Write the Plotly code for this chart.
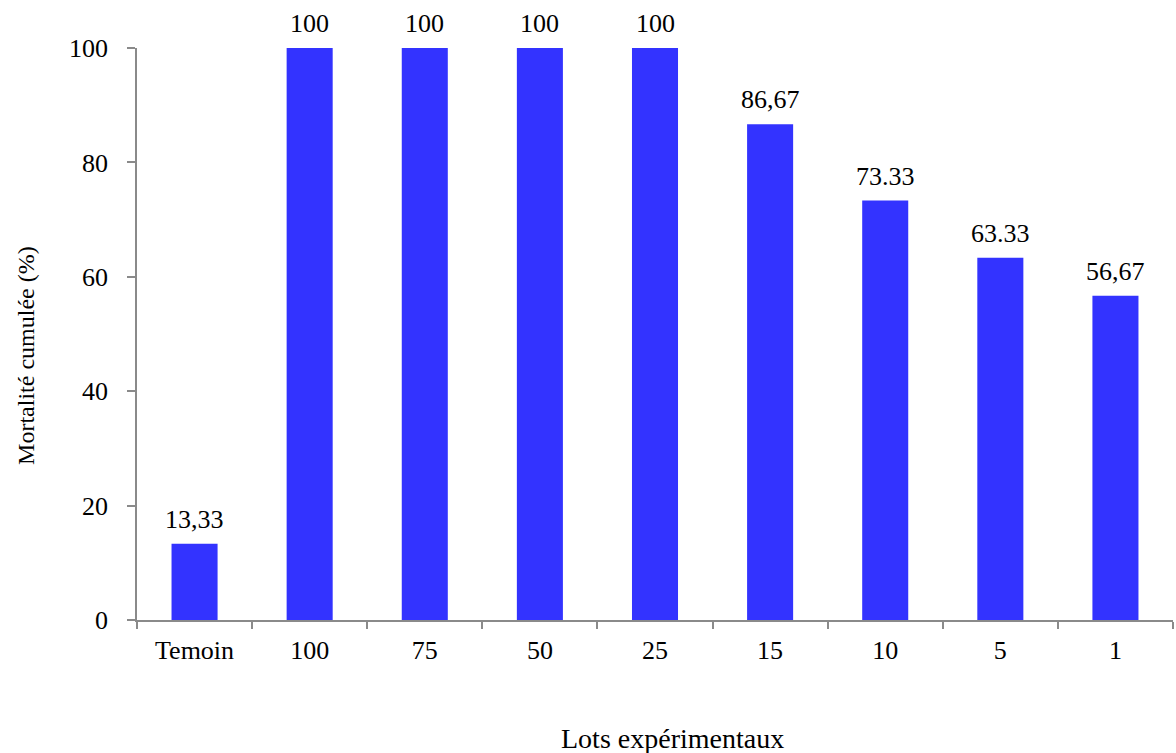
import plotly.graph_objects as go

# Experimental lots and cumulative mortality (%)
lots = ["Temoin", "100", "75", "50", "25", "15", "10", "5", "1"]
mortalite = [13.33, 100, 100, 100, 100, 86.67, 73.33, 63.33, 56.67]
etiquettes = ["13,33", "100", "100", "100", "100", "86,67", "73.33", "63.33", "56,67"]
y_ticks = [0, 20, 40, 60, 80, 100]

font_family = "Liberation Serif, Times New Roman, serif"
axis_color = "#8a8a8a"

fig = go.Figure(
    go.Bar(
        x=lots,
        y=mortalite,
        marker=dict(color="#3333FF", line=dict(width=0)),
        width=0.4,
        cliponaxis=False,
        hoverinfo="x+y",
    )
)

# value labels sitting above each bar (category axis positions are indices)
annotations = [
    dict(
        x=i, y=val, xref="x", yref="y",
        text=lab, showarrow=False,
        xanchor="center", yanchor="bottom", yshift=8,
        font=dict(family=font_family, size=26, color="black"),
    )
    for i, (val, lab) in enumerate(zip(mortalite, etiquettes))
]

annotations += [
    dict(
        text="Lots expérimentaux",
        xref="paper", yref="paper",
        x=0.517, y=-0.207,
        xanchor="center", yanchor="middle",
        showarrow=False,
        font=dict(family=font_family, size=28, color="black"),
    ),
    dict(
        text="Mortalité cumulée (%)",
        xref="paper", yref="paper",
        x=-0.107, y=0.462,
        xanchor="center", yanchor="middle",
        textangle=-90,
        showarrow=False,
        font=dict(family=font_family, size=24, color="black"),
    ),
]

fig.update_layout(
    width=1176,
    height=753,
    margin=dict(l=137, r=3, t=48, b=133),
    plot_bgcolor="white",
    paper_bgcolor="white",
    showlegend=False,
    font=dict(family=font_family, size=26, color="black"),
    xaxis=dict(
        type="category",
        tickson="boundaries",
        ticks="outside",
        ticklen=7,
        tickcolor=axis_color,
        tickwidth=1.5,
        showline=True,
        linecolor=axis_color,
        linewidth=1.5,
        showgrid=False,
        ticklabelstandoff=6,
        tickfont=dict(family=font_family, size=26, color="black"),
        range=[-0.5, 8.5],
    ),
    yaxis=dict(
        range=[0, 100],
        tickvals=y_ticks,
        ticks="outside",
        ticklen=8,
        tickcolor=axis_color,
        tickwidth=1.5,
        showline=True,
        linecolor=axis_color,
        linewidth=1.5,
        showgrid=False,
        zeroline=False,
        ticklabelstandoff=14,
        tickfont=dict(family=font_family, size=26, color="black"),
    ),
    annotations=annotations,
)

fig.write_html("out.html")
